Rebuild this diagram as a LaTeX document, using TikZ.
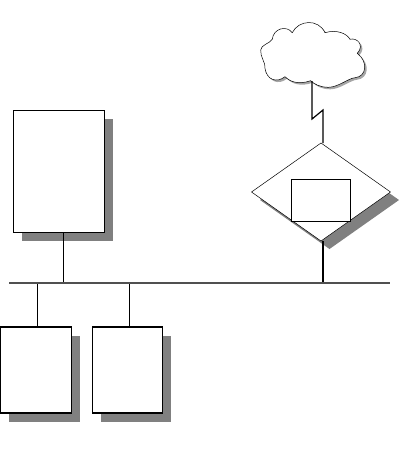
\documentclass[tikz,border=0pt]{standalone}
\usetikzlibrary{shapes.geometric, positioning, shadows}
\definecolor{cShade}{RGB}{128,128,128}
\definecolor{cBus}{RGB}{80,80,80}
\tikzset{
	hostbox/.style={rectangle, draw=black, line width=0.9pt, fill=white, outer sep=0pt, inner sep=0pt, drop shadow={shadow xshift=8.5pt, shadow yshift=-8.5pt, fill=cShade, opacity=1}},
	routerbox/.style={diamond, draw=black, line width=0.5pt, fill=white, outer sep=0pt, inner sep=0pt, minimum width=139pt, minimum height=98pt, drop shadow={shadow xshift=8.5pt, shadow yshift=-8pt, fill=cShade, opacity=1}},
	innerbox/.style={rectangle, draw=black, line width=0.7pt, fill=white, outer sep=0pt, inner sep=0pt, minimum width=59pt, minimum height=41.5pt},
	tap/.style={line width=0.9pt},
	trunk/.style={line width=1.5pt, cBus},
	wan/.style={line width=1.2pt},
}
\begin{document}
\begin{tikzpicture}[x=1pt, y=-1pt]
	\useasboundingbox (0,0) rectangle (414,450);
	\fill[white] (0,0) rectangle (414,450);
	% cloud
	\fill[cShade!70, shift={(2,2)}] (310.7,80.7) .. controls (298.3,85) and (290,81.7) .. (285,76.7) .. controls (276.7,83.3) and (266.7,80) .. (265,68.3) .. controls (266,63.3) and (260,56.7) .. (260.7,50) .. controls (260.7,45) and (270,43.3) .. (272.3,39.3) .. controls (273.3,28.3) and (286.7,25) .. (292.3,32.7) .. controls (298.3,20) and (318.3,18.3) .. (325,32.7) .. controls (336.7,29.3) and (346.7,33.3) .. (350,39.3) .. controls (356.7,37.3) and (365,45) .. (357.3,53.3) .. controls (368.3,61.7) and (366.7,76.7) .. (355,77.7) .. controls (348.3,78.3) and (338,87.3) .. (328.3,87.3) .. controls (320,87.3) and (314,84) .. (310.7,80.7) -- cycle;
	\draw[line width=0.5pt, fill=white] (310.7,80.7) .. controls (298.3,85) and (290,81.7) .. (285,76.7) .. controls (276.7,83.3) and (266.7,80) .. (265,68.3) .. controls (266,63.3) and (260,56.7) .. (260.7,50) .. controls (260.7,45) and (270,43.3) .. (272.3,39.3) .. controls (273.3,28.3) and (286.7,25) .. (292.3,32.7) .. controls (298.3,20) and (318.3,18.3) .. (325,32.7) .. controls (336.7,29.3) and (346.7,33.3) .. (350,39.3) .. controls (356.7,37.3) and (365,45) .. (357.3,53.3) .. controls (368.3,61.7) and (366.7,76.7) .. (355,77.7) .. controls (348.3,78.3) and (338,87.3) .. (328.3,87.3) .. controls (320,87.3) and (314,84) .. (310.7,80.7) -- cycle;
	\node[hostbox, minimum width=91pt, minimum height=122pt] (server) at (59,171.5) {};
	\node[hostbox, minimum width=71pt, minimum height=86pt, line width=1.1pt] (hostA) at (36,370) {};
	\node[hostbox, minimum width=70pt, minimum height=86pt, line width=1.1pt, right=21pt of hostA] (hostB) {};
	\node[routerbox] (router) at (321,192) {};
	\node[innerbox] (inner) at (321,200.25) {};
	% attachment points
	\coordinate (busL) at (9,283);
	\coordinate (busR) at (390,283);
	\coordinate (tapS) at (63,283);
	\coordinate (tapA) at (37,283);
	\coordinate (tapB) at (129,283);
	\coordinate (tapR) at (323,283);
	\coordinate (cloudfoot) at (312,81);
	\coordinate (kinkA) at (312,119);
	\coordinate (kinkB) at (323,110);
	\coordinate (routertop) at (323,143);
	\draw[tap] (tapS) -- (tapS |- server.south);
	\draw[tap] (tapA) -- (tapA |- hostA.north);
	\draw[tap] (tapB) -- (tapB |- hostB.north);
	\draw[line width=1.5pt] (tapR) -- (tapR |- router.south);
	\draw[trunk] (busL) -- (busR);
	\draw[wan] (cloudfoot) -- (kinkA) -- (kinkB) -- (routertop);
\end{tikzpicture}
\end{document}
